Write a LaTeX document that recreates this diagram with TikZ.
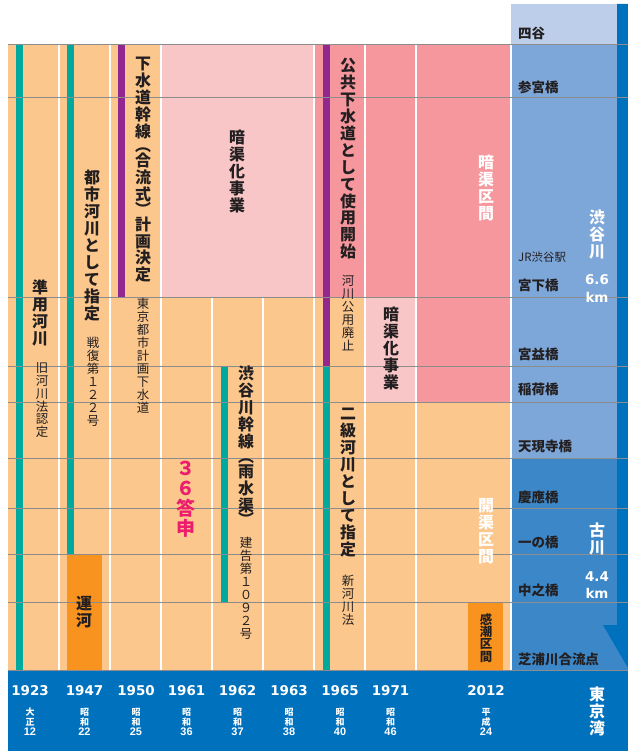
\documentclass[tikz,border=0pt]{standalone}
\usepackage{fontspec}
\newfontfamily\jpfont{Noto Sans CJK JP}
\newfontfamily\numfont{DejaVu Sans}
\newfontfamily\erafont{Liberation Sans}

\definecolor{peach}{HTML}{FCC78C}
\definecolor{palepink}{HTML}{F9C6C7}
\definecolor{rosepink}{HTML}{F5979D}
\definecolor{riverteal}{HTML}{00A99D}
\definecolor{sewerpurple}{HTML}{92278F}
\definecolor{canalorange}{HTML}{F7931E}
\definecolor{bayblue}{HTML}{0071BC}
\definecolor{skyblue}{HTML}{BCCEEA}
\definecolor{midblue}{HTML}{7EA7D9}
\definecolor{deepblue}{HTML}{3C87C8}
\definecolor{answerred}{HTML}{EC1C6E}
\definecolor{ink}{HTML}{231F20}
\definecolor{rulegray}{HTML}{8C8C8C}

\newcommand{\eranum}[1]{{\erafont\bfseries\fontsize{11}{10}\selectfont #1}}

\tikzset{
    vbold/.style={font=\jpfont\bfseries\fontsize{16}{17}\selectfont, text=ink,
                  align=center, inner sep=0pt, anchor=north},
    vnote/.style={font=\jpfont\fontsize{12.5}{13}\selectfont, text=ink,
                  align=center, inner sep=0pt, anchor=north},
    vwhite/.style={vbold, text=white},
    station/.style={font=\jpfont\bfseries\fontsize{13.5}{14}\selectfont, text=ink,
                    inner sep=0pt, anchor=west},
    year/.style={font=\numfont\bfseries\fontsize{13.5}{14}\selectfont, text=white,
                 inner sep=0pt},
    era/.style={font=\jpfont\bfseries\fontsize{9}{10}\selectfont, text=white,
                align=center, inner sep=0pt, anchor=north},
    colsep/.style={white, line width=1.5bp},
    rowline/.style={rulegray, line width=1bp},
}

\begin{document}
\begin{tikzpicture}[x=1bp, y=-1bp]
    \useasboundingbox (0, 0) rectangle (628, 751);

    % background of the time columns
    \fill[peach] (8, 45) rectangle (511, 670);
    \fill[palepink] (161, 45) rectangle (314, 297);
    \fill[palepink] (365, 297) rectangle (416, 402);
    \fill[rosepink] (314, 45) rectangle (511, 297);
    \fill[rosepink] (416, 297) rectangle (511, 402);

    % river column and bay
    \fill[skyblue] (511, 4) rectangle (617, 45);
    \fill[midblue] (511, 45) rectangle (617, 458);
    \fill[deepblue] (511, 458) rectangle (628, 670);
    \fill[bayblue] (617, 4) -- (628, 4) -- (628, 668) -- (603, 625)
                   -- (617, 625) -- cycle;
    \fill[bayblue] (8, 670) rectangle (628, 751);

    % bars
    \fill[riverteal] (16, 45) rectangle (23, 670);
    \fill[riverteal] (67, 45) rectangle (74, 554);
    \fill[canalorange] (67, 554) rectangle (102, 670);
    \fill[sewerpurple] (118, 45) rectangle (125, 297);
    \fill[riverteal] (221, 366) rectangle (228, 602);
    \fill[sewerpurple] (323, 45) rectangle (330, 366);
    \fill[riverteal] (323, 366) rectangle (330, 670);
    \fill[canalorange] (468, 602) rectangle (503, 670);

    % column separators
    \draw[colsep] (59, 45) -- (59, 670);
    \draw[colsep] (110, 45) -- (110, 670);
    \draw[colsep] (161, 45) -- (161, 670);
    \draw[colsep] (212, 297) -- (212, 670);
    \draw[colsep] (263, 297) -- (263, 670);
    \draw[colsep] (314, 45) -- (314, 670);
    \draw[colsep] (365, 45) -- (365, 670);
    \draw[colsep] (416, 45) -- (416, 670);
    \draw[colsep] (511, 45) -- (511, 670);

    % bridge rows
    \draw[rowline] (8, 45) -- (628, 45);
    \draw[rowline] (8, 97) -- (628, 97);
    \draw[rowline] (8, 297) -- (628, 297);
    \draw[rowline] (8, 366) -- (628, 366);
    \draw[rowline] (8, 402) -- (628, 402);
    \draw[rowline] (8, 458) -- (628, 458);
    \draw[rowline] (8, 508) -- (628, 508);
    \draw[rowline] (8, 554) -- (628, 554);
    \draw[rowline] (8, 602) -- (628, 602);
    \draw[rowline] (8, 670) -- (628, 670);

    % events
    \node[vbold] (jun) at (40, 280) {準\\用\\河\\川};
    \node[vnote] (junnote) at (42, 362) {旧\\河\\川\\法\\認\\定};
    \node[vbold] (toshi) at (92, 170) {都\\市\\河\\川\\と\\し\\て\\指\\定};
    \node[vnote] (toshinote) at (93, 337) {戦\\復\\第\\１\\２\\２\\号};
    \node[vbold] (unga) at (84, 596) {運\\河};
    \node[vbold] (kansen) at (143, 57) {下\\水\\道\\幹\\線\\[-2.5pt]︵\\[-2pt]合\\流\\式\\[-2.5pt]︶\\[-2pt]計\\画\\決\\定};
    \node[vnote] (kansennote) at (143, 298) {東\\京\\都\\市\\計\\画\\下\\水\\道};
    \node[vbold] (ankyo) at (237, 130) {暗\\渠\\化\\事\\業};
    \node[vbold, text=answerred, font=\jpfont\bfseries\fontsize{19}{20}\selectfont]
        (toshin) at (186, 461) {３\\６\\答\\申};
    \node[vbold] (shibukan) at (246, 366) {渋\\谷\\川\\幹\\線\\[-2.5pt]︵\\[-1.5pt]雨\\水\\渠\\[-2.5pt]︶};
    \node[vnote] (shibukannote) at (246, 537) {建\\告\\第\\１\\０\\９\\２\\号};
    \node[vbold] (kokyo) at (348, 58) {公\\共\\下\\水\\道\\と\\し\\て\\使\\用\\開\\始};
    \node[vnote] (kokyonote) at (348, 275) {河\\川\\公\\用\\廃\\止};
    \node[vbold] (ankyo2) at (391, 307) {暗\\渠\\化\\事\\業};
    \node[vbold] (nikyu) at (348, 408) {二\\級\\河\\川\\と\\し\\て\\指\\定};
    \node[vnote] (nikyunote) at (348, 575) {新\\河\\川\\法};
    \node[vwhite] (ankyokukan) at (486, 155) {暗\\渠\\区\\間};
    \node[vwhite] (kaikyokukan) at (486, 498) {開\\渠\\区\\間};
    \node[vbold, font=\jpfont\bfseries\fontsize{12.5}{12.5}\selectfont]
        (kancho) at (486, 613) {感\\潮\\区\\間};

    % bridges
    \node[station] (yotsuya) at (518, 33) {四谷};
    \node[station] (sangubashi) at (518, 87) {参宮橋};
    \node[station, font=\jpfont\fontsize{11.5}{12}\selectfont] (jr) at (518, 257) {JR渋谷駅};
    \node[station] (miyashita) at (518, 285) {宮下橋};
    \node[station] (miyamasu) at (518, 354) {宮益橋};
    \node[station] (inari) at (518, 389) {稲荷橋};
    \node[station] (tengenji) at (518, 446) {天現寺橋};
    \node[station] (keio) at (518, 497) {慶應橋};
    \node[station] (ichino) at (518, 542) {一の橋};
    \node[station] (nakano) at (518, 590) {中之橋};
    \node[station] (shibaura) at (518, 659) {芝浦川合流点};

    % rivers
    \node[vwhite] (shibuyagawa) at (597, 210) {渋\\谷\\川};
    \node[year] (shibuyalen) at (597, 280) {6.6};
    \node[year] (shibuyakm) at (597, 297) {km};
    \node[vwhite] (furukawa) at (597, 523) {古\\川};
    \node[year] (furulen) at (597, 577) {4.4};
    \node[year] (furukm) at (597, 593) {km};
    \node[vwhite] (wan) at (597, 687) {東\\京\\湾};

    % years
    \node[year] (y1923) at (30, 691) {1923};
    \node[year] (y1947) at (84.5, 691) {1947};
    \node[year] (y1950) at (136, 691) {1950};
    \node[year] (y1961) at (186.5, 691) {1961};
    \node[year] (y1962) at (237.5, 691) {1962};
    \node[year] (y1963) at (289, 691) {1963};
    \node[year] (y1965) at (340, 691) {1965};
    \node[year] (y1971) at (390.5, 691) {1971};
    \node[year] (y2012) at (486, 691) {2012};
    \node[era] (e1923) at (30, 708) {大\\正\\\eranum{12}};
    \node[era] (e1947) at (84.5, 708) {昭\\和\\\eranum{22}};
    \node[era] (e1950) at (136, 708) {昭\\和\\\eranum{25}};
    \node[era] (e1961) at (186.5, 708) {昭\\和\\\eranum{36}};
    \node[era] (e1962) at (237.5, 708) {昭\\和\\\eranum{37}};
    \node[era] (e1963) at (289, 708) {昭\\和\\\eranum{38}};
    \node[era] (e1965) at (340, 708) {昭\\和\\\eranum{40}};
    \node[era] (e1971) at (390.5, 708) {昭\\和\\\eranum{46}};
    \node[era] (e2012) at (486, 708) {平\\成\\\eranum{24}};
\end{tikzpicture}
\end{document}
